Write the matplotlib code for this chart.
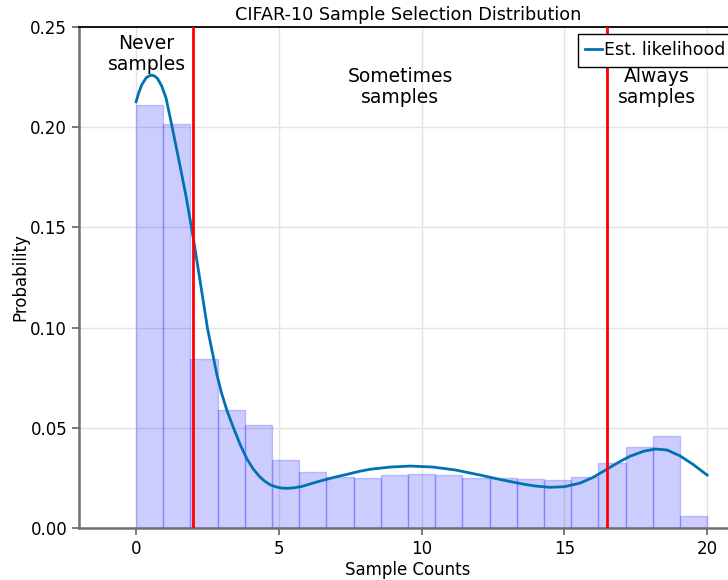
import numpy as np
import matplotlib
matplotlib.use("Agg")
import matplotlib.pyplot as plt

plt.rcParams['font.family'] = ['DejaVu Sans']

# Histogram (density) values, 21 bins spanning 0..20
bin_lo, bin_hi, n_bins = 0.0, 20.0, 21
hist_vals = [0.211, 0.2016, 0.0843, 0.0589, 0.0514, 0.0339, 0.0279, 0.0253,
             0.0250, 0.0264, 0.0269, 0.0263, 0.0250, 0.0248, 0.0243, 0.0240,
             0.0254, 0.0324, 0.0404, 0.0459, 0.0060]

# Estimated likelihood curve
kde_x = [0.0, 0.1, 0.2, 0.35, 0.45, 0.55, 0.65, 0.75, 0.9, 1.05, 1.25, 1.5,
         1.75, 2.0, 2.25, 2.5, 2.83, 3.0, 3.18, 3.41, 3.65, 3.88, 4.1, 4.34,
         4.5, 4.69, 4.9, 5.1, 5.3, 5.5, 5.8, 6.1, 6.44, 6.68, 7.0, 7.4, 7.8,
         8.2, 8.9, 9.6, 10.4, 11.2, 12.05, 12.75, 13.2, 13.6, 14.0, 14.5,
         15.0, 15.55, 16.0, 16.5, 16.9, 17.3, 17.8, 18.2, 18.6, 19.05, 19.5,
         20.0]
kde_y = [0.2127, 0.2175, 0.2212, 0.2246, 0.2256, 0.2260, 0.2255, 0.2243,
         0.2205, 0.2145, 0.2010, 0.1835, 0.1655, 0.1450, 0.1225, 0.0997,
         0.0765, 0.0670, 0.0587, 0.0500, 0.0415, 0.0345, 0.0295, 0.0254,
         0.0234, 0.0216, 0.0205, 0.0199, 0.0198, 0.0200, 0.0207, 0.0220,
         0.0234, 0.0243, 0.0255, 0.0268, 0.0282, 0.0293, 0.0304, 0.0309,
         0.0304, 0.0289, 0.0264, 0.0242, 0.0229, 0.0218, 0.0209, 0.0203,
         0.0206, 0.0224, 0.0252, 0.0294, 0.0328, 0.0358, 0.0384, 0.0394,
         0.0389, 0.0360, 0.0318, 0.0264]

never_cut, always_cut = 2.0, 16.5

x_ticks = [0, 5, 10, 15, 20]
y_ticks = [0.00, 0.05, 0.10, 0.15, 0.20, 0.25]

fig = plt.figure(figsize=(7.28, 5.8), dpi=100)
ax = fig.add_axes([0.1085, 0.0897, 0.904, 0.8637])

edges = np.linspace(bin_lo, bin_hi, n_bins + 1)
ax.bar(edges[:-1], hist_vals, width=np.diff(edges), align='edge',
       color='blue', alpha=0.2, edgecolor='blue', linewidth=1, zorder=2)

ax.plot(kde_x, kde_y, color='#0072b2', lw=2, label='Est. likelihood', zorder=4)

ax.axvline(never_cut, color='red', lw=2, zorder=5)
ax.axvline(always_cut, color='red', lw=2, zorder=5)

ax.text(0.37, 0.2365, 'Never\nsamples', ha='center', va='center',
        fontsize=13.5, linespacing=1.15)
ax.text(9.25, 0.2199, 'Sometimes\nsamples', ha='center', va='center',
        fontsize=13.5, linespacing=1.15)
ax.text(18.25, 0.2199, 'Always\nsamples', ha='center', va='center',
        fontsize=13.5, linespacing=1.15)

ax.set_xlim(-2, 21.05)
ax.set_ylim(0, 0.25)
ax.set_xticks(x_ticks)
ax.set_yticks(y_ticks)
ax.set_yticklabels([f'{v:.2f}' for v in y_ticks])
ax.tick_params(labelsize=12, color='#707070', length=5, width=1.3)
ax.grid(True, color='#e3e3e3', lw=1, zorder=0)
ax.set_axisbelow(True)

for s in ['left', 'bottom']:
    ax.spines[s].set_color('#707070')
    ax.spines[s].set_linewidth(1.8)
ax.spines['top'].set_color('black')
ax.spines['top'].set_linewidth(1.3)
ax.spines['right'].set_visible(False)

ax.set_title('CIFAR-10 Sample Selection Distribution', fontsize=12.7, pad=5)
ax.set_xlabel('Sample Counts', fontsize=12, labelpad=2)
ax.set_ylabel('Probability', fontsize=12, labelpad=1)

leg = ax.legend(loc='upper left', bbox_to_anchor=(0.758, 0.986),
                borderaxespad=0, fontsize=12.5, handlelength=0.95,
                handletextpad=0.15, borderpad=0.42, fancybox=False,
                framealpha=1, edgecolor='black')
leg.get_frame().set_linewidth(1)

fig.savefig('out.png', dpi=100)
